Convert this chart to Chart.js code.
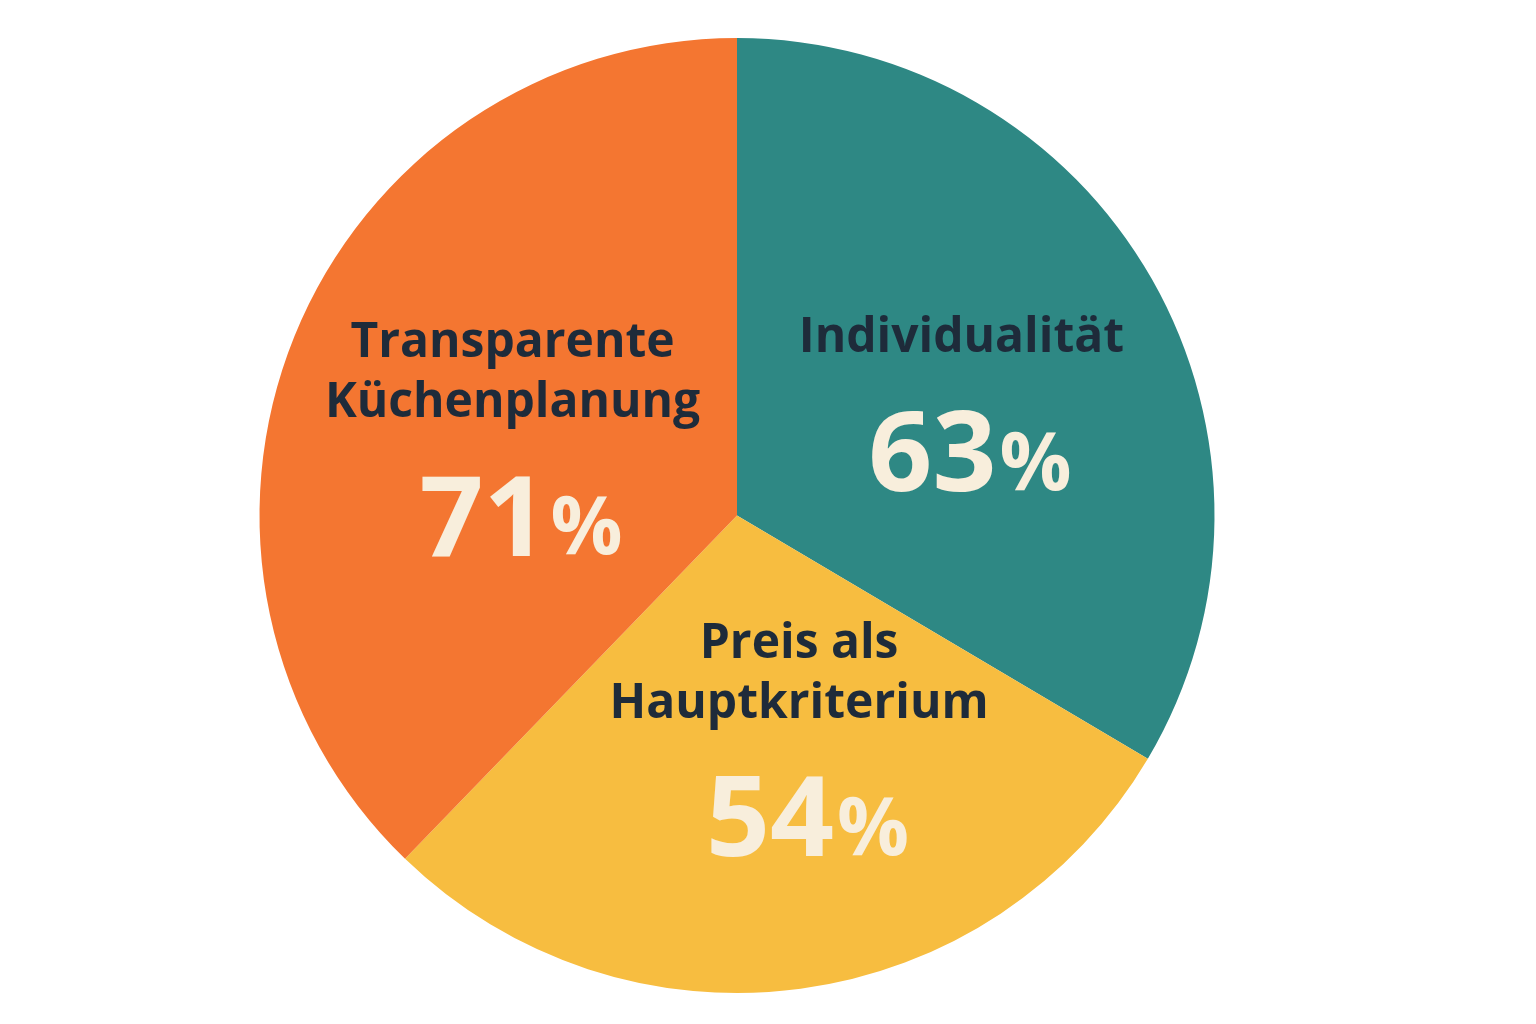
<!DOCTYPE html>
<html><head><meta charset="utf-8">
<script src="https://cdn.jsdelivr.net/npm/chart.js@4"></script>
<style>html,body{margin:0;background:#fff}#w{width:1536px;height:1024px}</style>
</head><body><div id="w"><canvas id="c"></canvas></div>
<script>
const categories = [["Individualität"], ["Preis als", "Hauptkriterium"], ["Transparente", "Küchenplanung"]];
const values = [63, 54, 71];
const colors = ["#2E8884", "#F7BD40", "#F47631"];
// label anchor as fraction of radius from centre (x, y)
const anchors = [[0.47, -0.37], [0.13, 0.27], [-0.47, -0.36]];
const labelPlugin = {
  id: 'labels',
  afterDatasetsDraw(chart) {
    const ctx = chart.ctx;
    const arc = chart.getDatasetMeta(0).data[0];
    const cx = arc.x, cy = arc.y, r = arc.outerRadius;
    values.forEach((v, i) => {
      const x = cx + anchors[i][0] * r, y = cy + anchors[i][1] * r;
      ctx.save();
      ctx.textAlign = 'center'; ctx.textBaseline = 'middle';
      ctx.fillStyle = '#1E2B3A';
      ctx.font = 'bold 48px "Open Sans", Inter, sans-serif';
      const lines = categories[i];
      lines.forEach((l, j) => ctx.fillText(l, x, y + j * 60));
      const ny = y + (lines.length - 1) * 60 + 120;
      ctx.fillStyle = '#F8EEDC';
      ctx.font = 'bold 112px "Open Sans", Inter, sans-serif';
      const num = String(v);
      ctx.textAlign = 'right';
      ctx.fillText(num, x + 35, ny);
      ctx.font = 'bold 80px "Open Sans", Inter, sans-serif';
      ctx.textAlign = 'left';
      ctx.fillText('%', x + 38, ny + 8);
      ctx.restore();
    });
  }
};
new Chart(document.getElementById('c'), {
  type: 'pie',
  data: { labels: categories.map(c => c.join(' ')), datasets: [{ data: values, backgroundColor: colors, borderWidth: 0 }] },
  options: {
    responsive: true, maintainAspectRatio: false, animation: false,
    layout: { padding: { top: 38, bottom: 31, left: 0, right: 62 } },
    plugins: { legend: { display: false }, tooltip: { enabled: false } }
  },
  plugins: [labelPlugin]
});
</script></body></html>
